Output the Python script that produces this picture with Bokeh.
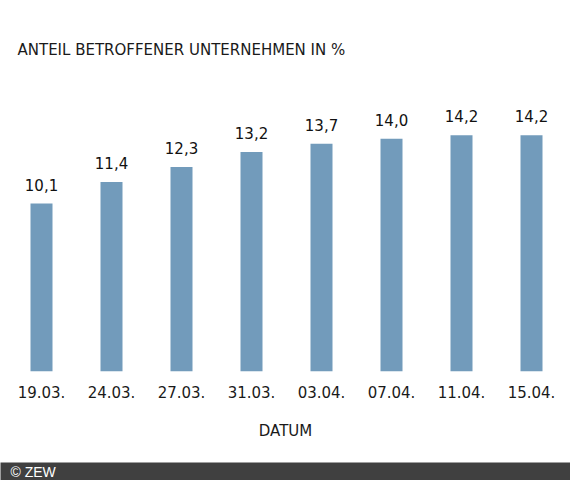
from bokeh.plotting import figure
from bokeh.models import ColumnDataSource, Range1d, FixedTicker, LabelSet, Label
from bokeh.core.properties import value
from bokeh.layouts import column
from bokeh.embed import file_html
from bokeh.resources import INLINE

# Data
dates = ["19.03.", "24.03.", "27.03.", "31.03.", "03.04.", "07.04.", "11.04.", "15.04."]
shares = [10.1, 11.4, 12.3, 13.2, 13.7, 14.0, 14.2, 14.2]

title_text = "ANTEIL BETROFFENER UNTERNEHMEN IN %"
x_label = "DATUM"
credit = "\u00a9 ZEW"

BAR_COLOR = "#729bbb"
TEXT_COLOR = "#1a1a1a"
FONT = "DejaVu Sans"

xs = list(range(len(dates)))
labels = [("%.1f" % v).replace(".", ",") for v in shares]
source = ColumnDataSource(data=dict(x=xs, share=shares, label=labels))

# main chart: 70 px per bar slot, ~16.6 px per percent point
x0 = -41 / 70
p = figure(width=570, height=462, output_backend="svg", toolbar_location=None,
           x_range=Range1d(x0, x0 + 570 / 70),
           y_range=Range1d(0, 371 / 16.63),
           y_axis_location=None,
           min_border_left=0, min_border_right=0, min_border_top=0,
           min_border_bottom=91)
p.outline_line_color = None
p.grid.grid_line_color = None
p.background_fill_color = "white"

p.vbar(x="x", top="share", width=22 / 70, bottom=0, source=source,
       fill_color=BAR_COLOR, line_color=None)

value_labels = LabelSet(x="x", y="share", text="label", source=source,
                        y_offset=13, text_align="center", text_baseline="alphabetic",
                        text_font=value(FONT), text_font_size="15px",
                        text_color="#111111")
p.add_layout(value_labels)

ax = p.xaxis[0]
ax.ticker = FixedTicker(ticks=xs)
ax.major_label_overrides = {i: d for i, d in zip(xs, dates)}
ax.axis_line_color = None
ax.major_tick_line_color = None
ax.minor_tick_line_color = None
ax.major_tick_out = 0
ax.major_label_standoff = 14
ax.major_label_text_font = FONT
ax.major_label_text_font_size = "15px"
ax.major_label_text_color = TEXT_COLOR
ax.axis_label = x_label
ax.axis_label_text_font = FONT
ax.axis_label_text_font_size = "15px"
ax.axis_label_text_font_style = "normal"
ax.axis_label_text_color = TEXT_COLOR
ax.axis_label_standoff = 21

title = Label(x=17, y=322, x_units="screen", y_units="screen", text=title_text,
              text_font=FONT, text_font_size="15px", text_color=TEXT_COLOR,
              text_baseline="alphabetic")
p.add_layout(title)

# dark footer strip with the credit
foot = figure(width=570, height=18, output_backend="svg", toolbar_location=None,
              title=None, x_range=Range1d(0, 570), y_range=Range1d(0, 18),
              x_axis_location=None, y_axis_location=None,
              min_border=0, min_border_left=0, min_border_right=0,
              min_border_top=0, min_border_bottom=0)
foot.outline_line_color = None
foot.grid.grid_line_color = None
foot.background_fill_color = "#404040"
foot.border_fill_color = "#404040"
foot.add_layout(Label(x=10, y=9, text=credit, text_font="Liberation Sans",
                      text_font_size="14px", text_color="white",
                      text_baseline="middle"))

layout = column(p, foot, spacing=0)
open("out.html", "w").write(file_html(layout, INLINE))
